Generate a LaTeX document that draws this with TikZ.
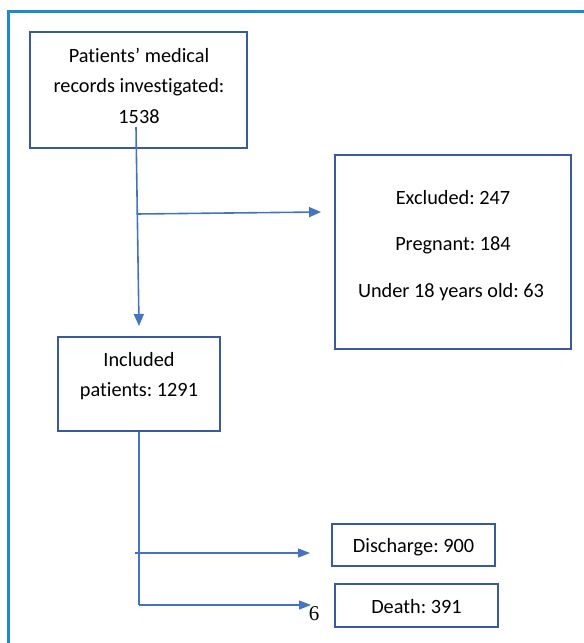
\documentclass[tikz,border=0pt]{standalone}
\usepackage{fontspec}
\setmainfont{Carlito}[Ligatures=NoCommon]
\newfontfamily\pagenumfont{Liberation Serif}
\usetikzlibrary{arrows.meta}
\frenchspacing
\definecolor{framecol}{RGB}{30,139,200}
\definecolor{boxcol}{RGB}{59,89,160}
\definecolor{arrcol}{RGB}{68,114,196}
\tikzset{
  boxnode/.style={draw=boxcol, line width=1.8pt, minimum width=#1, inner sep=0pt},
  lbl/.style={font=\fontsize{20.3}{20}\selectfont, text=black, inner sep=0pt, anchor=center},
  arr/.style={draw=arrcol, line width=1.6pt, -{Triangle[length=12pt,width=10pt]}},
  thinarr/.style={draw=arrcol, line width=1.3pt, -{Triangle[length=12pt,width=9pt]}},
  thinline/.style={draw=arrcol, line width=1.3pt},
}
\begin{document}
\begin{tikzpicture}[x=1pt,y=-1pt]
\useasboundingbox (0,0) rectangle (584,643);
% outer frame
\draw[framecol, line width=3pt] (8.5,643) -- (8.5,11) -- (584,11);
% boxes
\node[boxnode=217pt, minimum height=116pt] (b1) at (138.5,90) {};
\node[boxnode=236pt, minimum height=194pt] (b2) at (453,252) {};
\node[boxnode=162pt, minimum height=94pt] (b3) at (139,384) {};
\node[boxnode=163pt, minimum height=42pt] (b4) at (413.5,545) {};
\node[boxnode=163pt, minimum height=43pt] (b5) at (416.5,605.5) {};
% texts
\node[lbl] (t1a) at (139,55) {Patients’ medical};
\node[lbl] (t1b) at (139,87) {records investigated:};
\node[lbl] (t1c) at (139,117) {1538};
\node[lbl] (t2a) at (453,198) {Excluded: 247};
\node[lbl] (t2b) at (453,245) {Pregnant: 184};
\node[lbl] (t2c) at (451,292) {Under 18 years old: 63};
\node[lbl] (t3a) at (139,360) {Included};
\node[lbl] (t3b) at (139,391) {patients: 1291};
\node[lbl] (t4) at (413.5,547) {Discharge: 900};
\node[lbl] (t5) at (416.5,607) {Death: 391};
\node[font=\pagenumfont\fontsize{21}{21}\selectfont, inner sep=0pt] (pg) at (314,614) {6};
% connectors
\coordinate (s1) at (136,127);
\coordinate (e1) at (139,326);
\coordinate (j1) at (136.5,214);
\coordinate (e2) at (321,212);
\draw[arr] (s1) -- (e1);
\draw[arr] (j1) -- (e2);
\coordinate (c1) at (139,605);
\coordinate (e3) at (311,605);
\coordinate (j2) at (135,553);
\coordinate (e4) at (310,553);
\draw[thinline] (b3.south) -- (c1);
\draw[thinarr] (c1) -- (e3);
\draw[thinarr] (j2) -- (e4);
\end{tikzpicture}
\end{document}
